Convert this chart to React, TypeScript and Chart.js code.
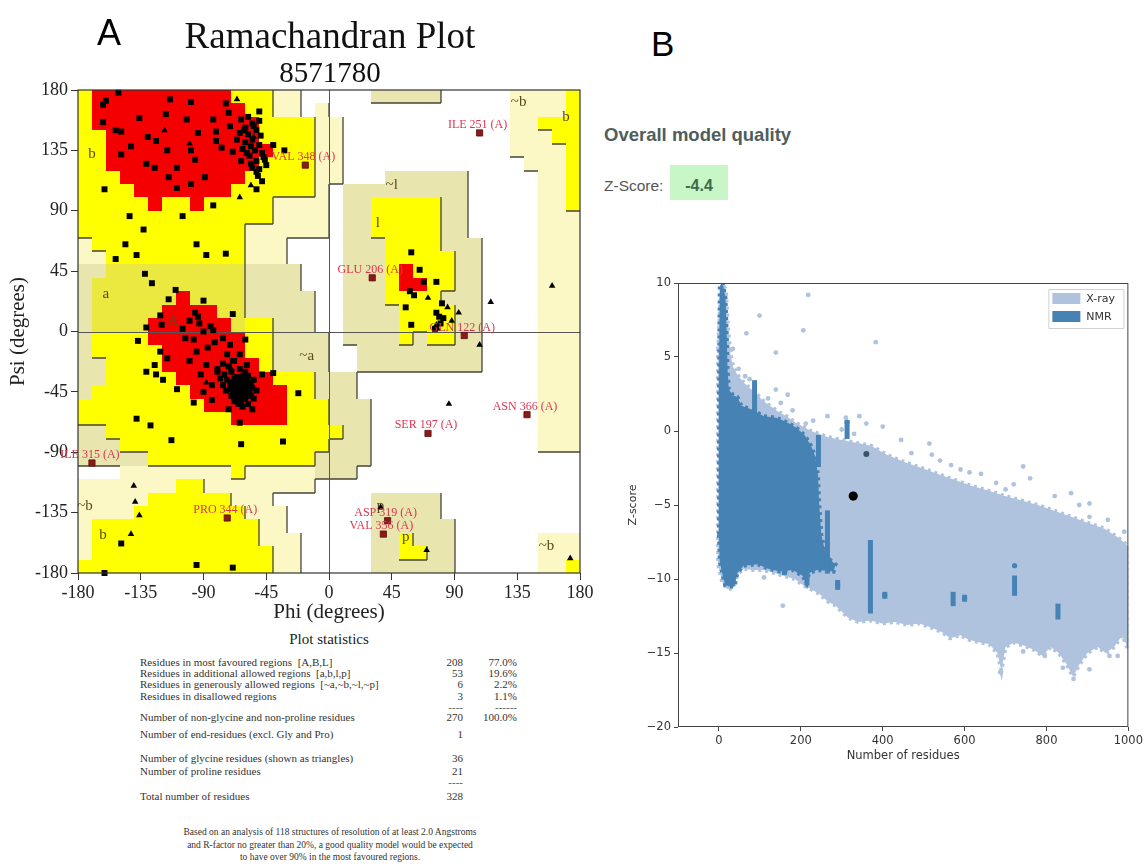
import React, { useEffect, useRef } from 'react';
import { Chart, registerables } from 'chart.js';

Chart.register(...registerables);

const SERIF = "'Liberation Serif', 'Times New Roman', serif";
const SANS = "'Liberation Sans', Arial, sans-serif";
const MPL = "'DejaVu Sans', sans-serif";

// ================= Panel A : Ramachandran plot =================
const ANGLE_TICKS = [-180, -135, -90, -45, 0, 45, 90, 135, 180];

// 36 rows (psi 180 -> -180, 10 deg each); each row run-length encodes 36 phi cells from -180
// R = most favoured, Y = additional allowed, G = additional allowed (shaded), K/P = generously allowed, . = disallowed
const REGION_ROWS_RLE: string[] = [
  'Y R10 Y3 P2 .5 K5 .5 P4 Y',
  'Y R11 Y2 P2 . P .13 P4 Y',
  'Y R12 Y4 P2 .12 P2 Y3',
  'Y2 R11 Y4 P2 .12 P3 Y2',
  'Y2 R12 Y3 P2 .12 P4 Y',
  'Y2 R11 Y4 P2 .13 P3 Y',
  'Y3 R9 Y5 P2 .3 K6 .5 P2 Y',
  'Y4 R7 Y6 P . K9 .5 P2 Y',
  'Y5 R Y2 R Y5 P4 . K2 Y5 K2 .5 P2 Y',
  'Y14 P4 . K2 Y5 K2 .5 P3',
  'Y12 P6 . K2 Y5 K2 .5 P3',
  'P Y11 P3 .4 K3 Y4 K3 .4 P3',
  'P2 Y10 P3 .4 K3 Y5 K2 .4 P3',
  'K2 G10 K4 .3 K3 Y R Y3 K2 .4 P3',
  'K G11 K4 .3 K3 Y R2 Y2 K2 .4 P3',
  'K G6 R G4 K5 .2 K3 Y4 K3 .4 P3',
  'K G5 R4 G2 K5 .2 K4 Y4 K2 .4 P3',
  'K G4 R6 G Y2 K3 .2 K4 Y4 K2 .4 P3',
  'K Y4 R7 Y2 K4 . K4 Y K Y2 K2 .4 P3',
  'K Y5 R6 Y2 K4 .2 K9 .4 P3',
  'K2 Y4 R7 Y K4 .2 K9 .4 P3',
  'K2 Y5 R7 Y3 K3 .13 P3',
  'K Y7 R7 Y2 K3 .13 P3',
  'Y9 R6 Y3 K3 .12 P3',
  'Y11 R4 Y3 K3 .12 P3',
  'K2 Y17 K2 .12 P3',
  'K3 Y15 K3 .12 P3',
  'K5 Y12 K4 .15',
  '.3 P8 Y P5 K3 .16',
  'P7 Y2 P8 .19',
  'P5 Y6 P3 .7 K5 .10',
  'P4 Y8 P3 .6 K5 .10',
  'P Y12 P2 .6 K6 .9',
  'P Y12 P3 .5 K2 Y K3 .6 P3',
  'P Y13 P2 .5 K2 Y2 K2 .6 P3',
  'Y14 P2 .5 K6 .6 P2 Y',
];
const REGION_COLORS: Record<string, string> = {
  R: '#f50000', Y: '#ffff00', G: '#ebe940', K: '#e8e5ae', P: '#fbf8c6', '.': '#ffffff',
};
const REGION_LEVEL: Record<string, number> = { R: 3, Y: 2, G: 2, K: 1, P: 1, '.': 0 };

// non-glycine, non-proline residues (phi, psi) - squares
const residues: [number, number][] = [
  [-160, 172], [-151, 178], [-162, 169], [-162, 156], [-153, 150], [-149, 149], [-136, 159], [-117, 162], [-114, 173],
  [-99, 171], [-74, 170], [-149, 132], [-142, 138], [-130, 145], [-124, 142], [-131, 125], [-125, 122], [-116, 135],
  [-109, 122], [-102, 158], [-99, 135], [-96, 128], [-94, 148], [-89, 115], [-99, 110], [-109, 107], [-115, 115],
  [-83, 158], [-81, 149], [-81, 142], [-77, 137], [-72, 163], [-71, 153], [-69, 134], [-66, 143], [-64, 148], [-63, 158],
  [-60, 141], [-59, 133], [-55, 155], [-50, 164], [-50, 157], [-54, 153], [-63, 127], [-55, 122], [-52, 119], [-50, 121],
  [-47, 130], [-40, 139], [-32, 135], [-52, 106], [-52, 150], [-49, 146], [-55, 143], [-50, 139], [-53, 135], [-57, 131],
  [-48, 133], [-46, 128], [-52, 127], [-56, 125], [-61, 150], [-58, 160], [-45, 124], [-51, 116], [-48, 112], [-58, 147],
  [-56, 138], [-60, 152], [-62, 136], [-161, 106], [-143, 86], [-133, 76], [-146, 65], [-153, 54], [-138, 57], [-132, 43],
  [-127, 36], [-105, 86], [-95, 65], [-88, 57], [-74, 58], [-83, 94],
  [-110, 31], [-115, 24], [-90, 23], [-69, 13], [-121, 12], [-96, 14], [-94, 11], [-100, 8], [-93, 6], [-85, 4], [-105, 2],
  [-87, -12], [-82, -8], [-95, -15], [-100, -22], [-92, -32], [-84, -40], [-90, -45], [-84, -51], [-72, -58], [-55, -58],
  [-64, -68], [-40, -31], [-22, -46], [-138, -65], [-128, -70], [-113, -81], [-63, -84], [-33, -82], [-137, -7], [-131, 3],
  [-120, 5], [-103, -5], [-97, -6], [-90, 0], [-83, 1], [-76, -5], [-71, -10], [-60, -6], [-121, -15], [-116, -20],
  [-125, -25], [-131, -30], [-124, -32], [-119, -36], [-109, -43], [-97, -53], [-88, -25], [-80, -30], [-76, -24],
  [-73, -17], [-69, -22], [-64, -17], [-59, -25], [-48, -32],
  [-70, -30], [-68, -35], [-66, -38], [-64, -40], [-62, -42], [-60, -44], [-58, -46], [-65, -45], [-67, -42], [-63, -36],
  [-61, -39], [-59, -41], [-57, -38], [-55, -42], [-56, -48], [-60, -50], [-63, -48], [-66, -50], [-69, -46], [-71, -40],
  [-73, -36], [-75, -32], [-72, -26], [-68, -22], [-64, -28], [-60, -30], [-58, -33], [-54, -36], [-52, -44], [-54, -50],
  [-58, -54], [-62, -56], [-65, -54], [-68, -52], [-70, -48], [-74, -44], [-76, -40], [-78, -35], [-80, -28], [-62, -33],
  [-57, -45], [-64, -44], [-61, -47], [-66, -34], [-69, -38], [-59, -37], [-63, -52], [-56, -40], [-67, -47], [-71, -43],
  [-60, -39], [-65, -41],
  [59, 59], [65, 46], [68, 37], [77, 37], [58, 30], [61, 27], [55, 18], [81, 21], [77, 14], [79, 11], [82, 10], [59, 5],
  [76, 2], [80, 6],
  [-95, -174], [-69, -176], [-161, -180], [-149, -158],
];

// glycine residues - triangles
const glycines: [number, number][] = [
  [-66, 173], [-56, 109], [-64, 100], [-140, -115], [-139, -127], [-136, -137], [-142, -151], [71, 25], [116, 22],
  [160, 34], [93, 14], [77, 5], [78, 2], [108, -10], [86, -54], [70, -163], [173, -169], [37, -131], [88, 8], [85, 18],
  [-54, 145], [-100, 140], [-88, -38], [-70, -28], [-118, 150],
];

// residues in generously allowed / disallowed regions (labelled)
const flaggedResidues: [number, number][] = [
  [108, 148], [-17, 124], [31, 40], [97, -3], [71, -76], [142, -62], [42, -141], [39, -151], [-170, -98], [-73, -139],
];
const flaggedNames: string[] = [
  'ILE 251 (A)', 'VAL 348 (A)', 'GLU 206 (A)', 'GLN 122 (A)', 'SER 197 (A)', 'ASN 366 (A)', 'ASP 319 (A)',
  'VAL 356 (A)', 'ILE 315 (A)', 'PRO 344 (A)',
];

const regionLabels: string[] = ['b', 'a', 'A', '~a', '~b', 'b', '~l', 'l', '~b', 'b', 'p', 'p', '~b'];
const regionLabelPos: [number, number][] = [
  [-170, 132], [-160, 28], [-112, 8], [-16, -18], [-175, -130], [-162, -152], [45, 109], [35, 81], [136, 171],
  [170, 160], [37, -130], [55, -153], [156, -160],
];

const statLabels: string[] = [
  'Residues in most favoured regions  [A,B,L]',
  'Residues in additional allowed regions  [a,b,l,p]',
  'Residues in generously allowed regions  [~a,~b,~l,~p]',
  'Residues in disallowed regions',
  'Number of non-glycine and non-proline residues',
  'Number of end-residues (excl. Gly and Pro)',
  'Number of glycine residues (shown as triangles)',
  'Number of proline residues',
  'Total number of residues',
];
const statCounts: string[] = ['208', '53', '6', '3', '270', '1', '36', '21', '328'];
const statPercents: string[] = ['77.0%', '19.6%', '2.2%', '1.1%', '100.0%', '', '', '', ''];
const statBaselines: number[] = [666, 677, 688, 700, 721, 738, 762, 775, 800];
const footnoteLines: string[] = [
  'Based on an analysis of 118 structures of resolution of at least 2.0 Angstroms',
  'and R-factor no greater than 20%, a good quality model would be expected',
  'to have over 90% in the most favoured regions.',
];

// ================= Panel B : Z-score vs number of residues =================
const RES_TICKS = [0, 200, 400, 600, 800, 1000];
const Z_TICKS = [-20, -15, -10, -5, 0, 5, 10];
const XRAY_COLOR = '#afc3de';
const NMR_COLOR = '#4682b4';

// outline of the dense X-ray cloud (residues, z-score)
const xrayEnvelope: [number, number][] = [
  [-2, 5.5], [3, 8.5], [10, 10], [17, 9.5], [22, 7], [28, 5.2], [35, 4.3], [45, 3.8], [60, 3.3], [75, 2.9], [90, 2.6],
  [105, 2.1], [125, 1.7], [145, 1.3], [165, 1.0], [185, 0.6], [205, 0.3], [225, 0.0], [245, -0.2], [265, -0.4],
  [300, -0.6], [335, -0.8], [372, -1.0], [410, -1.6], [453, -2.1], [495, -2.5], [535, -2.9], [575, -3.3], [616, -3.7],
  [655, -4.0], [698, -4.4], [740, -4.7], [779, -5.0], [820, -5.4], [861, -5.8], [900, -6.2], [942, -6.6], [975, -7.2],
  [1000, -7.8],
  [1000, -14.8], [985, -13.8], [965, -14.6], [945, -15.0], [925, -14.6], [900, -15.0], [880, -15.8], [865, -16.6],
  [850, -15.8], [830, -15.0], [810, -14.6], [790, -15.2], [770, -14.8], [745, -14.5], [720, -14.3], [700, -14.6],
  [690, -16.2], [680, -15.0], [660, -14.4], [640, -14.3], [610, -14.1], [590, -13.8], [565, -14.0], [545, -13.6],
  [520, -13.3], [490, -13.0], [460, -13.1], [430, -12.9], [400, -13.0], [370, -12.8], [340, -12.9], [315, -12.6],
  [300, -12.2], [285, -11.8], [265, -11.5], [245, -11.0], [225, -10.7], [205, -10.4], [185, -10.0], [160, -9.8],
  [135, -9.6], [110, -9.4], [85, -9.4], [60, -9.3], [45, -9.7], [35, -10.6], [20, -10.7], [8, -10.2], [-2, -9],
];
// outline of the dense NMR cloud
const nmrEnvelope: [number, number][] = [
  [0, -7], [0, 2.5], [2, 9.8], [9, 10], [16, 9], [19, 6.5], [21, 4.2], [24, 2.8], [35, 2.4], [45, 2.3], [55, 1.7],
  [75, 1.5], [90, 1.3], [110, 1.0], [140, 0.9], [165, 0.6], [190, 0.2], [210, -0.3], [225, -1.0], [235, -1.7],
  [242, -3], [245, -5], [250, -7], [262, -8.5], [285, -9.0], [280, -9.5], [240, -9.4], [220, -9.6], [214, -10.3],
  [205, -9.8], [180, -9.4], [150, -9.5], [120, -9.3], [95, -9.0], [60, -9.1], [45, -9.6], [38, -10.5], [25, -10.5],
  [15, -10.4], [8, -9.6], [2, -8.8],
];
// vertical NMR streaks: residues, top z, bottom z
const nmrStreaks: [number, number, number][] = [
  [87, 3.3, 1.0], [215, -9, -10.3], [243, -0.4, -2.3], [313, 0.6, -0.4], [370, -7.5, -12.2], [290, -10.2, -10.6],
  [405, -11.0, -11.2], [572, -11.0, -11.7], [600, -11.2, -11.4], [722, -9.9, -11.0], [828, -11.8, -12.6],
  [160, -9.0, -9.6], [265, -5.5, -9.5],
];
const xrayScatter: [number, number][] = [
  [218, 9.2], [99, 7.8], [67, 6.6], [206, 6.8], [383, 6.0], [34, 5.55], [139, 5.3], [64, 3.7], [139, 2.8], [168, 2.45],
  [106, 1.9], [151, 1.9], [265, 1.0], [343, 1.0], [400, 0.3], [212, 0.5], [445, -0.6], [514, -0.85], [567, -2.3],
  [612, -2.8], [743, -2.4], [677, -3.5], [905, -4.9], [905, -5.8], [970, -8.9], [913, -8.8], [801, -5.5], [768, -5.8],
  [700, -3.95], [676, -4.4], [30, 5.5], [48, 4.2], [75, 3.5], [120, 2.2], [180, 1.4], [230, 0.7], [300, 0.1], [330, -0.2],
  [470, -1.5], [540, -2.0], [640, -2.9], [720, -3.6], [820, -4.4], [880, -5.0], [950, -6.0], [990, -6.8],
  [156, -11.8], [687, -16.3], [866, -16.75], [905, -16.1], [743, -14.9], [796, -15.2], [954, -15.2], [974, -15.2],
  [840, -16.0], [110, -9.9], [310, 0.9], [360, 0.5], [520, -1.6], [590, -2.6], [760, -3.2], [860, -4.2],
];
const nmrScatter: [number, number][] = [
  [722, -9.1], [290, -10.4], [405, -11.1], [600, -11.3], [313, 0.6], [243, -0.5],
];
const neighbourPoint: [number, number][] = [[360, -1.55]];
const modelPoint: [number, number][] = [[328, -4.4]];
const legendNames: string[] = ['X-ray', 'NMR'];
const legendColors: string[] = [XRAY_COLOR, NMR_COLOR];

// ================= helpers =================
function expandRow(rle: string): string[] {
  const out: string[] = [];
  for (const tok of rle.trim().split(/\s+/)) {
    const c = tok[0];
    const n = tok.length > 1 ? parseInt(tok.slice(1), 10) : 1;
    for (let k = 0; k < n; k++) out.push(c);
  }
  while (out.length < 36) out.push('.');
  return out.slice(0, 36);
}

const toXY = (arr: [number, number][]) => arr.map(([x, y]) => ({ x, y }));

const ramaPlugin = {
  id: 'ramaRegions',
  beforeDraw(chart: any) {
    const { ctx, chartArea: ca, scales } = chart;
    const xs = scales.x;
    const ys = scales.y;
    const px = (v: number) => Math.round(xs.getPixelForValue(v));
    const py = (v: number) => Math.round(ys.getPixelForValue(v));
    const grid = REGION_ROWS_RLE.map(expandRow);
    ctx.save();
    for (let j = 0; j < 36; j++) {
      for (let i = 0; i < 36; i++) {
        const x0 = px(-180 + i * 10), x1 = px(-170 + i * 10);
        const y0 = py(180 - j * 10), y1 = py(170 - j * 10);
        ctx.fillStyle = REGION_COLORS[grid[j][i]] || '#fff';
        ctx.fillRect(x0, y0, x1 - x0, y1 - y0);
      }
    }
    ctx.strokeStyle = '#45443a';
    ctx.lineWidth = 1.3;
    ctx.beginPath();
    for (let j = 0; j < 36; j++) {
      for (let i = 0; i < 36; i++) {
        const lv = REGION_LEVEL[grid[j][i]];
        if (lv < 1 || lv > 2) continue;
        const x0 = px(-180 + i * 10), x1 = px(-170 + i * 10);
        const y0 = py(180 - j * 10), y1 = py(170 - j * 10);
        if (i < 35 && REGION_LEVEL[grid[j][i + 1]] < lv) {
          ctx.moveTo(x1, y0);
          ctx.lineTo(x1, y1);
        }
        if (j < 35 && REGION_LEVEL[grid[j + 1][i]] < lv) {
          ctx.moveTo(x0, y1);
          ctx.lineTo(x1, y1);
        }
      }
    }
    ctx.stroke();
    // zero lines
    ctx.strokeStyle = '#555';
    ctx.lineWidth = 1;
    ctx.beginPath();
    ctx.moveTo(px(0) + 0.5, ca.top);
    ctx.lineTo(px(0) + 0.5, ca.bottom);
    ctx.moveTo(ca.left, py(0) + 0.5);
    ctx.lineTo(ca.right, py(0) + 0.5);
    ctx.stroke();
    // region letters
    ctx.fillStyle = '#5a4a16';
    ctx.font = `15px ${SERIF}`;
    ctx.textAlign = 'center';
    ctx.textBaseline = 'middle';
    regionLabels.forEach((t, k) => {
      ctx.fillText(t, xs.getPixelForValue(regionLabelPos[k][0]), ys.getPixelForValue(regionLabelPos[k][1]));
    });
    ctx.restore();
  },
  afterDatasetsDraw(chart: any) {
    const { ctx, scales } = chart;
    ctx.save();
    ctx.fillStyle = '#dc3550';
    ctx.font = `12px ${SERIF}`;
    ctx.textAlign = 'center';
    ctx.textBaseline = 'alphabetic';
    flaggedNames.forEach((t, k) => {
      const X = scales.x.getPixelForValue(flaggedResidues[k][0]);
      const Y = scales.y.getPixelForValue(flaggedResidues[k][1]);
      ctx.fillText(t, X - 2, Y - 5);
    });
    ctx.restore();
  },
  afterDraw(chart: any) {
    const { ctx, chartArea: ca } = chart;
    ctx.save();
    ctx.strokeStyle = '#333';
    ctx.lineWidth = 1.2;
    ctx.strokeRect(ca.left, ca.top, ca.right - ca.left, ca.bottom - ca.top);
    ctx.restore();
  },
};

const zPlugin = {
  id: 'zscoreCloud',
  beforeDatasetsDraw(chart: any) {
    const { ctx, chartArea: ca, scales } = chart;
    const X = (v: number) => scales.x.getPixelForValue(v);
    const Y = (v: number) => scales.y.getPixelForValue(v);
    ctx.save();
    ctx.beginPath();
    ctx.rect(ca.left, ca.top, ca.right - ca.left, ca.bottom - ca.top);
    ctx.clip();
    const poly = (pts: [number, number][], color: string, fuzzy: boolean) => {
      ctx.beginPath();
      pts.forEach(([a, b], k) => (k ? ctx.lineTo(X(a), Y(b)) : ctx.moveTo(X(a), Y(b))));
      ctx.closePath();
      ctx.fillStyle = color;
      ctx.fill();
      if (fuzzy) {
        ctx.strokeStyle = color;
        ctx.lineWidth = 4;
        ctx.setLineDash([3, 4]);
        ctx.stroke();
        ctx.setLineDash([]);
      }
    };
    poly(xrayEnvelope, XRAY_COLOR, true);
    poly(nmrEnvelope, NMR_COLOR, true);
    ctx.fillStyle = NMR_COLOR;
    for (const [r, t, b] of nmrStreaks) {
      const x0 = X(r), yt = Y(t), yb = Y(b);
      ctx.fillRect(x0 - 2.5, yt - 2, 5, yb - yt + 4);
    }
    ctx.restore();
  },
  afterDraw(chart: any) {
    const { ctx, chartArea: ca } = chart;
    ctx.save();
    ctx.strokeStyle = '#444';
    ctx.lineWidth = 1;
    ctx.strokeRect(ca.left + 0.5, ca.top + 0.5, ca.right - ca.left - 1, ca.bottom - ca.top - 1);
    // legend
    const boxR = ca.right - 5, boxL = boxR - 75, boxT = ca.top + 6, boxH = 39;
    ctx.fillStyle = 'rgba(255,255,255,0.85)';
    ctx.strokeStyle = '#d0d0d0';
    ctx.beginPath();
    ctx.rect(boxL + 0.5, boxT + 0.5, boxR - boxL, boxH);
    ctx.fill();
    ctx.stroke();
    ctx.font = `11px ${MPL}`;
    ctx.textBaseline = 'middle';
    ctx.textAlign = 'left';
    legendNames.forEach((n, k) => {
      const py = boxT + 4 + k * 18;
      ctx.fillStyle = legendColors[k];
      ctx.fillRect(boxL + 4, py, 28, 11);
      ctx.fillStyle = '#333';
      ctx.fillText(n, boxL + 38, py + 6);
    });
    ctx.restore();
  },
};

function RamachandranChart() {
  const ref = useRef<HTMLCanvasElement>(null);
  useEffect(() => {
    const chart = new Chart(ref.current as HTMLCanvasElement, {
      type: 'scatter',
      data: {
        datasets: [
          {
            label: 'residues', data: toXY(residues), pointStyle: 'rect', pointRadius: 4.2,
            backgroundColor: '#000', borderColor: '#000', borderWidth: 0, clip: false,
          } as any,
          {
            label: 'glycine', data: toXY(glycines), pointStyle: 'triangle', pointRadius: 3.8,
            backgroundColor: '#000', borderColor: '#000', borderWidth: 0, clip: false,
          } as any,
          {
            label: 'flagged', data: toXY(flaggedResidues), pointStyle: 'rect', pointRadius: 4.4,
            backgroundColor: '#8b1a1a', borderColor: '#5a0c0c', borderWidth: 0.8, clip: false,
          } as any,
        ],
      },
      options: {
        animation: false,
        responsive: false,
        events: [],
        layout: { padding: { top: 90, right: 20, left: 0, bottom: 0 } },
        plugins: { legend: { display: false }, tooltip: { enabled: false } },
        scales: {
          x: {
            type: 'linear', min: -180, max: 180,
            afterBuildTicks: (s: any) => { s.ticks = ANGLE_TICKS.map((v) => ({ value: v })); },
            afterFit: (s: any) => { s.height = 52; },
            ticks: { font: { family: SERIF, size: 18 }, color: '#222', padding: 2, maxRotation: 0, autoSkip: false },
            grid: { drawOnChartArea: false, drawTicks: true, tickLength: 7, color: '#333' },
            border: { display: false },
            title: {
              display: true, text: 'Phi (degrees)', font: { family: SERIF, size: 21 }, color: '#222',
              padding: { top: 0, bottom: 0 },
            },
          },
          y: {
            type: 'linear', min: -180, max: 180,
            afterBuildTicks: (s: any) => { s.ticks = ANGLE_TICKS.map((v) => ({ value: v })); },
            afterFit: (s: any) => { s.width = 78; },
            ticks: { font: { family: SERIF, size: 18 }, color: '#222', padding: 3, autoSkip: false },
            grid: { drawOnChartArea: false, drawTicks: true, tickLength: 7, color: '#333' },
            border: { display: false },
            title: {
              display: true, text: 'Psi (degrees)', font: { family: SERIF, size: 21 }, color: '#222',
              padding: { top: 6, bottom: 0 },
            },
          },
        },
      } as any,
      plugins: [ramaPlugin],
    });
    return () => chart.destroy();
  }, []);
  return (
    <canvas ref={ref} width={600} height={625}
      style={{ position: 'absolute', left: 0, top: 0, width: 600, height: 625 }} />
  );
}

const zFmt = (v: number) => (v < 0 ? `\u2212${Math.abs(v)}` : `${v}`);

function ZScoreChart() {
  const ref = useRef<HTMLCanvasElement>(null);
  useEffect(() => {
    const chart = new Chart(ref.current as HTMLCanvasElement, {
      type: 'scatter',
      data: {
        datasets: [
          {
            label: 'X-ray', data: toXY(xrayScatter), pointRadius: 2.4, backgroundColor: XRAY_COLOR,
            borderWidth: 0,
          } as any,
          {
            label: 'NMR', data: toXY(nmrScatter), pointRadius: 2.6, backgroundColor: NMR_COLOR, borderWidth: 0,
          } as any,
          {
            label: 'near', data: toXY(neighbourPoint), pointRadius: 3, backgroundColor: '#3b5568', borderWidth: 0,
          } as any,
          {
            label: 'model', data: toXY(modelPoint), pointRadius: 4.6, backgroundColor: '#000', borderWidth: 0,
          } as any,
        ],
      },
      options: {
        animation: false,
        responsive: false,
        events: [],
        layout: { padding: { top: 33, right: 16, left: 0, bottom: 0 } },
        plugins: { legend: { display: false }, tooltip: { enabled: false } },
        scales: {
          x: {
            type: 'linear', min: -100, max: 1000,
            afterBuildTicks: (s: any) => { s.ticks = RES_TICKS.map((v) => ({ value: v })); },
            afterFit: (s: any) => { s.height = 43; },
            ticks: { font: { family: MPL, size: 11.5 }, color: '#333', padding: 3, maxRotation: 0, callback: (v: any) => zFmt(Number(v)) },
            grid: { drawOnChartArea: false, drawTicks: true, tickLength: 4, color: '#444' },
            border: { display: false },
            title: {
              display: true, text: 'Number of residues', font: { family: MPL, size: 11.5 }, color: '#333',
              padding: { top: 0, bottom: 7 },
            },
          },
          y: {
            type: 'linear', min: -20, max: 10,
            afterBuildTicks: (s: any) => { s.ticks = Z_TICKS.map((v) => ({ value: v })); },
            afterFit: (s: any) => { s.width = 55; },
            ticks: { font: { family: MPL, size: 11.5 }, color: '#333', padding: 3, callback: (v: any) => zFmt(Number(v)) },
            grid: { drawOnChartArea: false, drawTicks: true, tickLength: 4, color: '#444' },
            border: { display: false },
            title: {
              display: true, text: 'Z-score', font: { family: MPL, size: 11 }, color: '#333',
              padding: { top: 4, bottom: 0 },
            },
          },
        },
      } as any,
      plugins: [zPlugin],
    });
    return () => chart.destroy();
  }, []);
  return (
    <canvas ref={ref} width={523} height={520}
      style={{ position: 'absolute', left: 623, top: 250, width: 523, height: 520 }} />
  );
}

type TProps = {
  x: number; y: number; size: number; family: string; children: React.ReactNode;
  align?: 'left' | 'center' | 'right'; weight?: string | number; color?: string;
};
// y is the text baseline
function T({ x, y, size, family, children, align = 'left', weight = 'normal', color = '#111' }: TProps) {
  const shift = align === 'center' ? 'translateX(-50%)' : align === 'right' ? 'translateX(-100%)' : 'none';
  return (
    <div style={{
      position: 'absolute', left: x, top: y - 0.84 * size, fontSize: size, lineHeight: `${size}px`,
      fontFamily: family, fontWeight: weight as any, color, whiteSpace: 'pre', transform: shift,
    }}>{children}</div>
  );
}

export default function App() {
  return (
    <div style={{ position: 'absolute', left: 0, top: 0, width: 1146, height: 867, background: '#fff', overflow: 'hidden' }}>
      <RamachandranChart />
      <ZScoreChart />

      <T x={97} y={45} size={36} family={SANS} color="#000">A</T>
      <T x={651} y={55} size={35} family={SANS} color="#000">B</T>

      <T x={330} y={48} size={37} family={SERIF} align="center" color="#111">Ramachandran Plot</T>
      <T x={330} y={82} size={29} family={SERIF} align="center" color="#111">8571780</T>

      <T x={329} y={645} size={15} family={SERIF} align="center" color="#222">Plot statistics</T>
      {statLabels.map((s, k) => (
        <React.Fragment key={s}>
          <T x={140} y={statBaselines[k]} size={11} family={SERIF} color="#333">{s}</T>
          <T x={463} y={statBaselines[k]} size={11} family={SERIF} align="right" color="#333">{statCounts[k]}</T>
          {statPercents[k] ? (
            <T x={517} y={statBaselines[k]} size={11} family={SERIF} align="right" color="#333">{statPercents[k]}</T>
          ) : null}
        </React.Fragment>
      ))}
      <T x={463} y={711} size={11} family={SERIF} align="right" color="#555">----</T>
      <T x={517} y={711} size={11} family={SERIF} align="right" color="#555">------</T>
      <T x={463} y={786} size={11} family={SERIF} align="right" color="#555">----</T>
      {footnoteLines.map((s, k) => (
        <T key={s} x={330} y={836 + k * 12.5} size={9.5} family={SERIF} align="center" color="#333">{s}</T>
      ))}

      <T x={604} y={142} size={18.5} family={SANS} weight="bold" color="#4f5d5d">Overall model quality</T>
      <T x={604} y={191} size={15.5} family={SANS} color="#555">Z-Score:</T>
      <div style={{ position: 'absolute', left: 670, top: 165, width: 58, height: 35, background: '#c8f6c6' }} />
      <T x={699} y={191} size={16} family={SANS} weight="bold" align="center" color="#3d6b4b">-4.4</T>
    </div>
  );
}
